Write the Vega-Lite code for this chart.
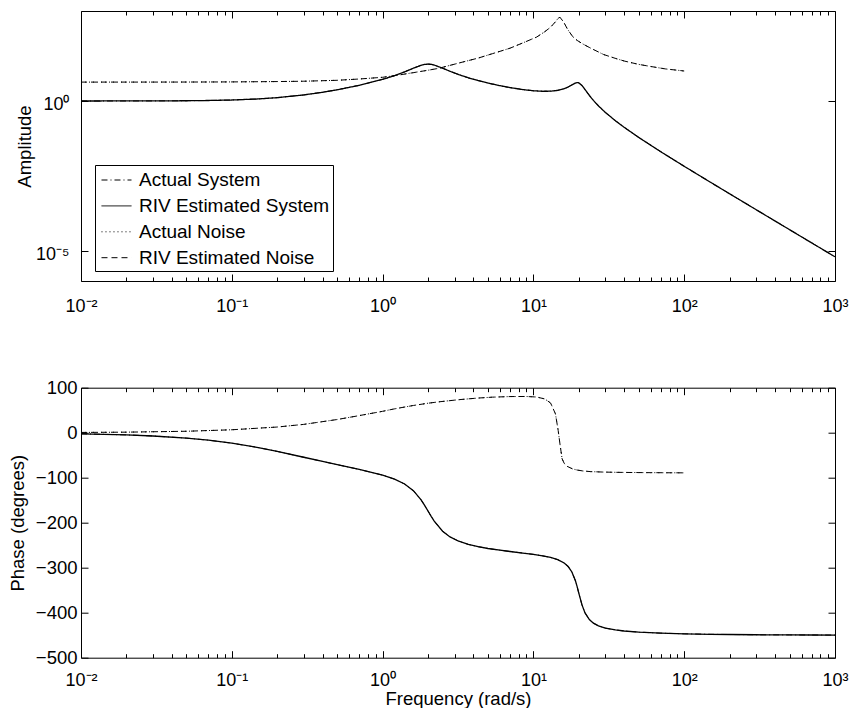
{
  "$schema": "https://vega.github.io/schema/vega-lite/v6.json",
  "background": "white",
  "padding": {"left": 7, "top": 10, "right": 0, "bottom": 0},
  "bounds": "flush",
  "spacing": 106.7,
  "config": {
    "font": "Liberation Sans",
    "view": {"stroke": "black", "strokeWidth": 1},
    "axis": {
      "domain": false,
      "grid": false,
      "tickColor": "black",
      "tickWidth": 1,
      "labelColor": "black",
      "labelFont": "Liberation Sans",
      "labelFontSize": 18,
      "titleFont": "Liberation Sans",
      "titleFontSize": 18.5,
      "titleFontWeight": "normal",
      "titleColor": "black",
      "labelFlush": false,
      "labelOverlap": false
    }
  },
  "datasets": {
    "system": [
      {"f": 0.01, "amp": 1.001, "ph": -2.43},
      {"f": 0.02, "amp": 1.003, "ph": -4.85},
      {"f": 0.03, "amp": 1.007, "ph": -7.29},
      {"f": 0.05, "amp": 1.020, "ph": -12.03},
      {"f": 0.07, "amp": 1.040, "ph": -16.64},
      {"f": 0.1, "amp": 1.079, "ph": -23.24},
      {"f": 0.15, "amp": 1.172, "ph": -33.12},
      {"f": 0.2, "amp": 1.292, "ph": -41.55},
      {"f": 0.3, "amp": 1.594, "ph": -54.57},
      {"f": 0.4, "amp": 1.956, "ph": -63.94},
      {"f": 0.5, "amp": 2.367, "ph": -71.01},
      {"f": 0.7, "amp": 3.331, "ph": -81.59},
      {"f": 1.0, "amp": 5.250, "ph": -94.27},
      {"f": 1.2, "amp": 7.015, "ph": -103.15},
      {"f": 1.4, "amp": 9.359, "ph": -114.07},
      {"f": 1.6, "amp": 12.39, "ph": -128.89},
      {"f": 1.8, "amp": 15.53, "ph": -149.39},
      {"f": 1.9, "amp": 16.60, "ph": -161.5},
      {"f": 2.0, "amp": 16.97, "ph": -174.03},
      {"f": 2.1, "amp": 16.63, "ph": -185.9},
      {"f": 2.2, "amp": 15.78, "ph": -196.49},
      {"f": 2.5, "amp": 12.41, "ph": -218.89},
      {"f": 2.8, "amp": 9.78, "ph": -231.55},
      {"f": 3.2, "amp": 7.576, "ph": -241.2},
      {"f": 3.7, "amp": 5.952, "ph": -248.19},
      {"f": 4.3, "amp": 4.793, "ph": -253.35},
      {"f": 5, "amp": 3.962, "ph": -257.32},
      {"f": 6, "amp": 3.240, "ph": -261.18},
      {"f": 7, "amp": 2.798, "ph": -264.02},
      {"f": 8.5, "amp": 2.403, "ph": -267.42},
      {"f": 10, "amp": 2.193, "ph": -270.45},
      {"f": 11.5, "amp": 2.105, "ph": -273.58},
      {"f": 13, "amp": 2.124, "ph": -277.26},
      {"f": 14.5, "amp": 2.262, "ph": -282.15},
      {"f": 16, "amp": 2.575, "ph": -289.57},
      {"f": 17, "amp": 2.928, "ph": -297.37},
      {"f": 18, "amp": 3.435, "ph": -309.56},
      {"f": 19, "amp": 3.982, "ph": -329.17},
      {"f": 19.5, "amp": 4.117, "ph": -342.2},
      {"f": 20, "amp": 4.036, "ph": -356.5},
      {"f": 21, "amp": 3.287, "ph": -382.7},
      {"f": 22, "amp": 2.409, "ph": -400.5},
      {"f": 23.5, "amp": 1.532, "ph": -415.34},
      {"f": 25, "amp": 1.045, "ph": -423.26},
      {"f": 27, "amp": 0.6877, "ph": -429.25},
      {"f": 30, "amp": 0.4165, "ph": -434.18},
      {"f": 35, "amp": 0.2192, "ph": -438.38},
      {"f": 40, "amp": 0.1325, "ph": -440.67},
      {"f": 50, "amp": 0.06076, "ph": -443.17},
      {"f": 70, "amp": 0.0203, "ph": -445.45},
      {"f": 100, "amp": 0.006665, "ph": -446.92},
      {"f": 150, "amp": 0.001931, "ph": -447.97},
      {"f": 200, "amp": 0.0008083, "ph": -448.49},
      {"f": 300, "amp": 0.0002381, "ph": -449.0},
      {"f": 500, "amp": 0.00005128, "ph": -449.4},
      {"f": 700, "amp": 0.00001867, "ph": -449.57},
      {"f": 1000, "amp": 0.000006401, "ph": -449.7}
    ],
    "noise": [
      {"f": 0.01, "amp": 4.266, "ph": 0.6},
      {"f": 0.02, "amp": 4.27, "ph": 1.2},
      {"f": 0.05, "amp": 4.285, "ph": 3.2},
      {"f": 0.1, "amp": 4.325, "ph": 6.5},
      {"f": 0.2, "amp": 4.446, "ph": 12.6},
      {"f": 0.3, "amp": 4.56, "ph": 18.5},
      {"f": 0.5, "amp": 4.898, "ph": 29.3},
      {"f": 0.7, "amp": 5.41, "ph": 38},
      {"f": 1.0, "amp": 6.166, "ph": 47.5},
      {"f": 1.2, "amp": 6.98, "ph": 53},
      {"f": 1.6, "amp": 8.81, "ph": 60.5},
      {"f": 2.0, "amp": 10.6, "ph": 65.5},
      {"f": 2.35, "amp": 12.25, "ph": 68.5},
      {"f": 3.23, "amp": 18.62, "ph": 73.5},
      {"f": 4.3, "amp": 26.92, "ph": 77},
      {"f": 5.37, "amp": 38.02, "ph": 79},
      {"f": 7.0, "amp": 57.54, "ph": 80.3},
      {"f": 8.93, "amp": 95.5, "ph": 80.5},
      {"f": 10.5, "amp": 134.9, "ph": 79.3},
      {"f": 11.9, "amp": 204.2, "ph": 75},
      {"f": 13.0, "amp": 288.4, "ph": 66},
      {"f": 14.0, "amp": 436.5, "ph": 42},
      {"f": 14.6, "amp": 575.4, "ph": 5},
      {"f": 15.0, "amp": 616.6, "ph": -25},
      {"f": 15.5, "amp": 501.2, "ph": -58},
      {"f": 16.0, "amp": 398.1, "ph": -68},
      {"f": 16.8, "amp": 251.2, "ph": -75},
      {"f": 18.2, "amp": 141.3, "ph": -80.5},
      {"f": 19.5, "amp": 104.7, "ph": -83},
      {"f": 21.3, "amp": 79.43, "ph": -85},
      {"f": 24, "amp": 57.54, "ph": -86.5},
      {"f": 29.2, "amp": 35.48, "ph": -87.5},
      {"f": 35, "amp": 26.3, "ph": -88},
      {"f": 40.2, "amp": 21.38, "ph": -88.3},
      {"f": 50, "amp": 16.6, "ph": -88.6},
      {"f": 60, "amp": 14.13, "ph": -88.8},
      {"f": 75, "amp": 11.75, "ph": -89},
      {"f": 100, "amp": 10.0, "ph": -89.2}
    ]
  },
  "vconcat": [
    {
      "width": 754,
      "height": 270,
      "resolve": {"axis": {"x": "independent", "y": "independent"}},
      "layer": [
        {
          "data": {"name": "system"},
          "mark": {"type": "line", "color": "black", "strokeWidth": 1},
          "encoding": {
            "x": {"field": "f", "type": "quantitative",
              "scale": {"type": "log", "domain": [0.01, 1000], "nice": false},
              "axis": {"orient": "bottom", "values": [0.01, 0.1, 1, 10, 100, 1000], "tickSize": -7,
                "labelPadding": 37, "labelBaseline": "alphabetic", "labelAlign": "center",
                "labelExpr": "datum.value < 0.05 ? '10⁻²' : datum.value < 0.5 ? '10⁻¹' : datum.value < 5 ? '10⁰' : datum.value < 50 ? '10¹' : datum.value < 500 ? '10²' : '10³'",
                "title": null}},
            "y": {"field": "amp", "type": "quantitative",
              "scale": {"type": "log", "domain": [0.000001, 1000], "nice": false},
              "axis": {"orient": "left", "values": [0.00001, 1], "tickSize": -7, "labelPadding": 19, "labelOffset": 3,
                "labelExpr": "datum.value < 0.001 ? '10⁻⁵' : '10⁰'",
                "title": "Amplitude", "titleX": -51, "titleBaseline": "alphabetic"}},
            "strokeDash": {"datum": "Actual System", "type": "nominal",
              "scale": {"domain": ["Actual System", "RIV Estimated System", "Actual Noise", "RIV Estimated Noise"],
                "range": [[6, 3, 1, 3], [1, 0], [1, 3], [6, 4]]},
              "legend": {"orient": "none", "legendX": 14, "legendY": 154, "title": null,
                "symbolType": "M-0.74,0H1.87", "symbolSize": 529, "symbolStrokeWidth": 1, "symbolStrokeColor": "black",
                "labelFont": "Liberation Sans", "labelFontSize": 19, "labelColor": "black", "labelOffset": 17, "labelLimit": 0,
                "rowPadding": 3.9, "padding": 3, "strokeColor": "black", "fillColor": "white", "cornerRadius": 0}}
          }
        },
        {
          "data": {"name": "system"},
          "mark": {"type": "line", "color": "black", "strokeWidth": 1.3},
          "encoding": {
            "x": {"field": "f", "type": "quantitative",
              "scale": {"type": "log", "domain": [0.01, 1000], "nice": false},
              "axis": {"orient": "top", "values": [0.01, 0.1, 1, 10, 100, 1000], "tickSize": -7, "labels": false, "title": null}},
            "y": {"field": "amp", "type": "quantitative",
              "scale": {"type": "log", "domain": [0.000001, 1000], "nice": false},
              "axis": {"orient": "right", "values": [0.00001, 1], "tickSize": -7, "labels": false, "title": null}},
            "strokeDash": {"datum": "RIV Estimated System", "type": "nominal"}
          }
        },
        {
          "data": {"name": "noise"},
          "mark": {"type": "line", "color": "black", "strokeWidth": 1},
          "encoding": {
            "x": {"field": "f", "type": "quantitative",
              "scale": {"type": "log", "domain": [0.01, 1000], "nice": false},
              "axis": {"orient": "bottom", "values": [0.02,0.03,0.04,0.05,0.06,0.07,0.08,0.09,0.2,0.3,0.4,0.5,0.6,0.7,0.8,0.9,2,3,4,5,6,7,8,9,20,30,40,50,60,70,80,90,200,300,400,500,600,700,800,900],
                "tickSize": -4, "labels": false, "title": null}},
            "y": {"field": "amp", "type": "quantitative",
              "scale": {"type": "log", "domain": [0.000001, 1000], "nice": false}, "axis": null},
            "strokeDash": {"datum": "Actual Noise", "type": "nominal"}
          }
        },
        {
          "data": {"name": "noise"},
          "mark": {"type": "line", "color": "black", "strokeWidth": 1},
          "encoding": {
            "x": {"field": "f", "type": "quantitative",
              "scale": {"type": "log", "domain": [0.01, 1000], "nice": false},
              "axis": {"orient": "top", "values": [0.02,0.03,0.04,0.05,0.06,0.07,0.08,0.09,0.2,0.3,0.4,0.5,0.6,0.7,0.8,0.9,2,3,4,5,6,7,8,9,20,30,40,50,60,70,80,90,200,300,400,500,600,700,800,900],
                "tickSize": -4, "labels": false, "title": null}},
            "y": {"field": "amp", "type": "quantitative",
              "scale": {"type": "log", "domain": [0.000001, 1000], "nice": false}, "axis": null},
            "strokeDash": {"datum": "RIV Estimated Noise", "type": "nominal"}
          }
        }
      ]
    },
    {
      "width": 754,
      "height": 270,
      "resolve": {"axis": {"x": "independent", "y": "independent"}},
      "layer": [
        {
          "data": {"name": "system"},
          "mark": {"type": "line", "color": "black", "strokeWidth": 1, "strokeDash": [6, 3, 1, 3]},
          "encoding": {
            "x": {"field": "f", "type": "quantitative",
              "scale": {"type": "log", "domain": [0.01, 1000], "nice": false},
              "axis": {"orient": "bottom", "values": [0.01, 0.1, 1, 10, 100, 1000], "tickSize": -7,
                "labelPadding": 35, "labelBaseline": "alphabetic", "labelAlign": "center",
                "labelExpr": "datum.value < 0.05 ? '10⁻²' : datum.value < 0.5 ? '10⁻¹' : datum.value < 5 ? '10⁰' : datum.value < 50 ? '10¹' : datum.value < 500 ? '10²' : '10³'",
                "title": "Frequency (rad/s)", "titleY": 46.5, "titleBaseline": "alphabetic"}},
            "y": {"field": "ph", "type": "quantitative",
              "scale": {"domain": [-500, 100], "nice": false, "zero": false},
              "axis": {"orient": "left", "values": [-500, -400, -300, -200, -100, 0, 100], "tickSize": -7,
                "labelPadding": 11, "labelFontSize": 18.5,
                "title": "Phase (degrees)", "titleX": -58, "titleBaseline": "alphabetic"}}
          }
        },
        {
          "data": {"name": "system"},
          "mark": {"type": "line", "color": "black", "strokeWidth": 1.3},
          "encoding": {
            "x": {"field": "f", "type": "quantitative",
              "scale": {"type": "log", "domain": [0.01, 1000], "nice": false},
              "axis": {"orient": "top", "values": [0.01, 0.1, 1, 10, 100, 1000], "tickSize": -7, "labels": false, "title": null}},
            "y": {"field": "ph", "type": "quantitative",
              "scale": {"domain": [-500, 100], "nice": false, "zero": false},
              "axis": {"orient": "right", "values": [-500, -400, -300, -200, -100, 0, 100], "tickSize": -7, "labels": false, "title": null}}
          }
        },
        {
          "data": {"name": "noise"},
          "mark": {"type": "line", "color": "black", "strokeWidth": 1, "strokeDash": [1, 3]},
          "encoding": {
            "x": {"field": "f", "type": "quantitative",
              "scale": {"type": "log", "domain": [0.01, 1000], "nice": false},
              "axis": {"orient": "bottom", "values": [0.02,0.03,0.04,0.05,0.06,0.07,0.08,0.09,0.2,0.3,0.4,0.5,0.6,0.7,0.8,0.9,2,3,4,5,6,7,8,9,20,30,40,50,60,70,80,90,200,300,400,500,600,700,800,900],
                "tickSize": -4, "labels": false, "title": null}},
            "y": {"field": "ph", "type": "quantitative",
              "scale": {"domain": [-500, 100], "nice": false, "zero": false}, "axis": null}
          }
        },
        {
          "data": {"name": "noise"},
          "mark": {"type": "line", "color": "black", "strokeWidth": 1, "strokeDash": [6, 4]},
          "encoding": {
            "x": {"field": "f", "type": "quantitative",
              "scale": {"type": "log", "domain": [0.01, 1000], "nice": false},
              "axis": {"orient": "top", "values": [0.02,0.03,0.04,0.05,0.06,0.07,0.08,0.09,0.2,0.3,0.4,0.5,0.6,0.7,0.8,0.9,2,3,4,5,6,7,8,9,20,30,40,50,60,70,80,90,200,300,400,500,600,700,800,900],
                "tickSize": -4, "labels": false, "title": null}},
            "y": {"field": "ph", "type": "quantitative",
              "scale": {"domain": [-500, 100], "nice": false, "zero": false}, "axis": null}
          }
        }
      ]
    }
  ]
}
